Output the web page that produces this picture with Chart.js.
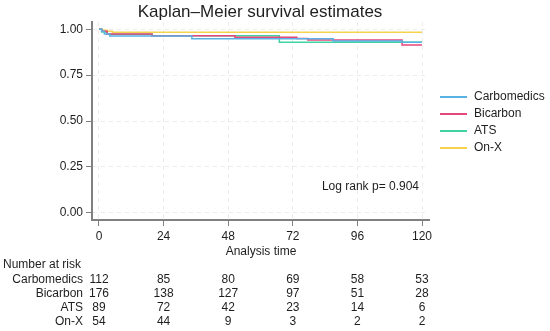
<!DOCTYPE html>
<html>
<head>
<meta charset="utf-8">
<script src="https://cdn.jsdelivr.net/npm/chart.js@4/dist/chart.umd.min.js"></script>
<style>
  html, body { margin: 0; padding: 0; background: #fff; }
  #wrap { width: 550px; height: 331px; position: relative; }
</style>
</head>
<body>
<div id="wrap"><canvas id="km"></canvas></div>
<script>
// --- Data ---
const GROUPS = ['Carbomedics', 'Bicarbon', 'ATS', 'On-X'];
const COLORS = ['#5ab1e3', '#e4477c', '#3fd3a3', '#f6d24e'];

const carboTime = [0, 1, 2, 4, 34.5, 87, 112.6, 120];
const carboSurv = [1, 0.99, 0.975, 0.963, 0.949, 0.937, 0.929, 0.929];

const bicarbTime = [0, 1, 3, 19.7, 50.5, 73.5, 77.6, 112.6, 120];
const bicarbSurv = [1, 0.99, 0.975, 0.965, 0.957, 0.950, 0.942, 0.915, 0.915];

const atsTime = [0, 1, 3, 19.7, 67, 120];
const atsSurv = [1, 0.985, 0.973, 0.965, 0.929, 0.929];

const onxTime = [0, 1, 3, 5, 120];
const onxSurv = [1, 0.995, 0.99, 0.984, 0.984];

const X_TICKS = [0, 24, 48, 72, 96, 120];
const Y_TICKS = [0, 0.25, 0.5, 0.75, 1];

const AT_RISK = [
  [112, 85, 80, 69, 58, 53],
  [176, 138, 127, 97, 51, 28],
  [89, 72, 42, 23, 14, 6],
  [54, 44, 9, 3, 2, 2]
];

const FONT = '"Liberation Sans", Arial, Helvetica, sans-serif';
const TEXT = '#1e1e1e';

function series(t, s) {
  return t.map((x, i) => ({ x, y: s[i] }));
}

const allSeries = [
  series(carboTime, carboSurv),
  series(bicarbTime, bicarbSurv),
  series(atsTime, atsSurv),
  series(onxTime, onxSurv)
];

// --- Extra text: title, legend, log-rank note, risk table ---
const decorations = {
  id: 'decorations',
  afterDraw(chart) {
    const ctx = chart.ctx;
    const xs = chart.scales.x;
    ctx.save();
    ctx.fillStyle = TEXT;

    ctx.font = '17px ' + FONT;
    ctx.textAlign = 'center';
    ctx.textBaseline = 'middle';
    ctx.fillText('Kaplan\u2013Meier survival estimates', 260, 12);

    ctx.font = '12px ' + FONT;
    ctx.fillText('Analysis time', 261, 252);

    ctx.textAlign = 'right';
    ctx.fillText('Log rank p= 0.904', 419, 187);

    // legend
    GROUPS.forEach((g, i) => {
      const y = 97 + i * 17;
      ctx.strokeStyle = COLORS[i];
      ctx.lineWidth = 2;
      ctx.beginPath();
      ctx.moveTo(440, y);
      ctx.lineTo(467, y);
      ctx.stroke();
      ctx.textAlign = 'left';
      ctx.fillText(g, 474, y);
    });

    // number at risk
    ctx.textAlign = 'left';
    ctx.fillText('Number at risk', 3, 265);
    GROUPS.forEach((g, i) => {
      const y = 280 + i * 14;
      ctx.textAlign = 'right';
      ctx.fillText(g, 83, y);
      ctx.textAlign = 'center';
      AT_RISK[i].forEach((n, j) => {
        ctx.fillText(String(n), xs.getPixelForValue(X_TICKS[j]), y);
      });
    });
    ctx.restore();
  }
};

function init() {
  const ctx = document.getElementById('km').getContext('2d');
  new Chart(ctx, {
    type: 'line',
    data: {
      datasets: allSeries.map((d, i) => ({
        label: GROUPS[i],
        data: d,
        borderColor: COLORS[i],
        borderWidth: 1.5,
        pointRadius: 0,
        stepped: 'before',
        fill: false
      }))
    },
    options: {
      responsive: false,
      animation: false,
      events: [],
      layout: { padding: { top: 22, left: 0, right: 121, bottom: 0 } },
      plugins: { legend: { display: false }, title: { display: false }, tooltip: { enabled: false } },
      scales: {
        x: {
          type: 'linear',
          min: -2.6,
          max: 122.6,
          afterBuildTicks: s => { s.ticks = X_TICKS.map(v => ({ value: v })); },
          afterFit: s => { s.height = 111; },
          ticks: { color: TEXT, font: { family: FONT, size: 12 }, padding: 3, maxRotation: 0 },
          grid: { color: '#ececec', tickColor: '#808080', tickLength: 6, tickWidth: 1 },
          border: { color: '#808080', width: 2, dash: [4, 4] }
        },
        y: {
          type: 'linear',
          min: -0.04,
          max: 1.04,
          afterBuildTicks: s => { s.ticks = Y_TICKS.map(v => ({ value: v })); },
          afterFit: s => { s.width = 92; },
          ticks: { color: TEXT, font: { family: FONT, size: 12 }, padding: 3, callback: v => v.toFixed(2) },
          grid: { color: '#ececec', tickColor: '#808080', tickLength: 6, tickWidth: 1 },
          border: { color: '#808080', width: 2, dash: [4, 4] }
        }
      }
    },
    plugins: [decorations]
  });
}

document.getElementById('km').width = 550;
document.getElementById('km').height = 331;
init();
</script>
</body>
</html>
